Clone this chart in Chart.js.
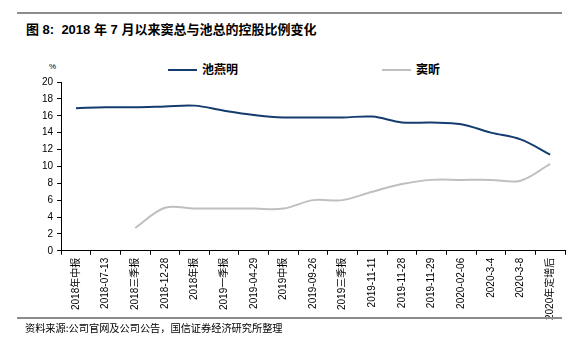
<!DOCTYPE html>
<html lang="zh">
<head>
<meta charset="UTF-8">
<title>控股比例变化</title>
<script src="https://cdn.jsdelivr.net/npm/chart.js"></script>
<style>
    body { margin: 0; width: 580px; height: 351px; background: #fff; font-family: "Liberation Sans", Arial, "Noto Sans CJK SC", sans-serif; position: relative; overflow: hidden; }
    .rule { position: absolute; left: 17px; width: 545px; height: 2px; background: #8c8c8c; }
    .title { position: absolute; left: 26px; top: 19px; font-size: 13px; font-weight: bold; color: #000; }
    .unit { position: absolute; left: 49px; top: 62px; font-size: 8px; color: #000; }
    .source { position: absolute; left: 25px; top: 320px; font-size: 10.2px; color: #000; font-family: "Noto Sans CJK SC", sans-serif; }
    .wrap { position: absolute; left: 0; top: 50px; width: 580px; height: 273px; }
    .lg { position: absolute; top: 60px; font-size: 12px; font-weight: bold; font-family: "Noto Sans CJK SC", sans-serif; color: #000; }
    .lg i { display: inline-block; width: 29px; height: 2px; vertical-align: middle; margin-right: 5px; position: relative; top: -1px; }
</style>
</head>
<body>
<div class="rule" style="top:12px"></div>
<div class="title">图 8:&nbsp; 2018 年 7 月以来窦总与池总的控股比例变化</div>
<div class="unit">%</div>
<div class="lg" style="left:168px"><i style="background:#143c6e"></i>池燕明</div>
<div class="lg" style="left:382px"><i style="background:#bfbfbf"></i>窦昕</div>
<div class="wrap"><canvas id="c"></canvas></div>
<div class="rule" style="top:317px"></div>
<div class="source">资料来源:公司官网及公司公告，国信证券经济研究所整理</div>

<script>
const categories = ['2018年中报', '2018-07-13', '2018三季报', '2018-12-28', '2018年报', '2019一季报', '2019-04-29', '2019中报', '2019-09-26', '2019三季报', '2019-11-11', '2019-11-28', '2019-11-29', '2020-02-06', '2020-3-4', '2020-3-8', '2020年定增后'];
const chiYanming = [16.9, 17.0, 17.0, 17.1, 17.2, 16.6, 16.1, 15.8, 15.8, 15.8, 15.9, 15.2, 15.2, 15.0, 14.0, 13.2, 11.4];
const douXin = [null, null, 2.7, 5.1, 5.0, 5.0, 5.0, 5.0, 6.0, 6.0, 7.0, 7.9, 8.4, 8.4, 8.4, 8.3, 10.3];
const yTicks = [0, 2, 4, 6, 8, 10, 12, 14, 16, 18, 20];

const font = { family: '"Liberation Sans", Arial, "Noto Sans CJK SC", sans-serif', size: 10 };

new Chart(document.getElementById('c'), {
    type: 'line',
    data: {
        labels: categories,
        datasets: [
            { label: '池燕明', data: chiYanming, borderColor: '#143c6e', borderWidth: 2, pointRadius: 0, tension: 0.35 },
            { label: '窦昕', data: douXin, borderColor: '#bfbfbf', borderWidth: 2, pointRadius: 0, tension: 0.35 }
        ]
    },
    options: {
        responsive: true,
        maintainAspectRatio: false,
        animation: false,
        layout: { padding: { left: 38, right: 15, top: 32, bottom: 0 } },
        plugins: {
            legend: { display: false },
            tooltip: { enabled: false }
        },
        scales: {
            x: {
                offset: true,
                grid: { display: true, drawOnChartArea: false, offset: true, tickLength: 4, color: '#000' },
                border: { color: '#000', width: 1 },
                ticks: { autoSkip: false, maxRotation: 90, minRotation: 90, color: '#000', font: font, padding: 3 }
            },
            y: {
                min: 0, max: 20,
                afterBuildTicks: s => { s.ticks = yTicks.map(v => ({ value: v })); },
                grid: { display: true, drawOnChartArea: false, tickLength: 4, color: '#000' },
                border: { color: '#000', width: 1 },
                ticks: { autoSkip: false, color: '#000', font: font, padding: 4 }
            }
        }
    }
});
</script>
</body>
</html>
